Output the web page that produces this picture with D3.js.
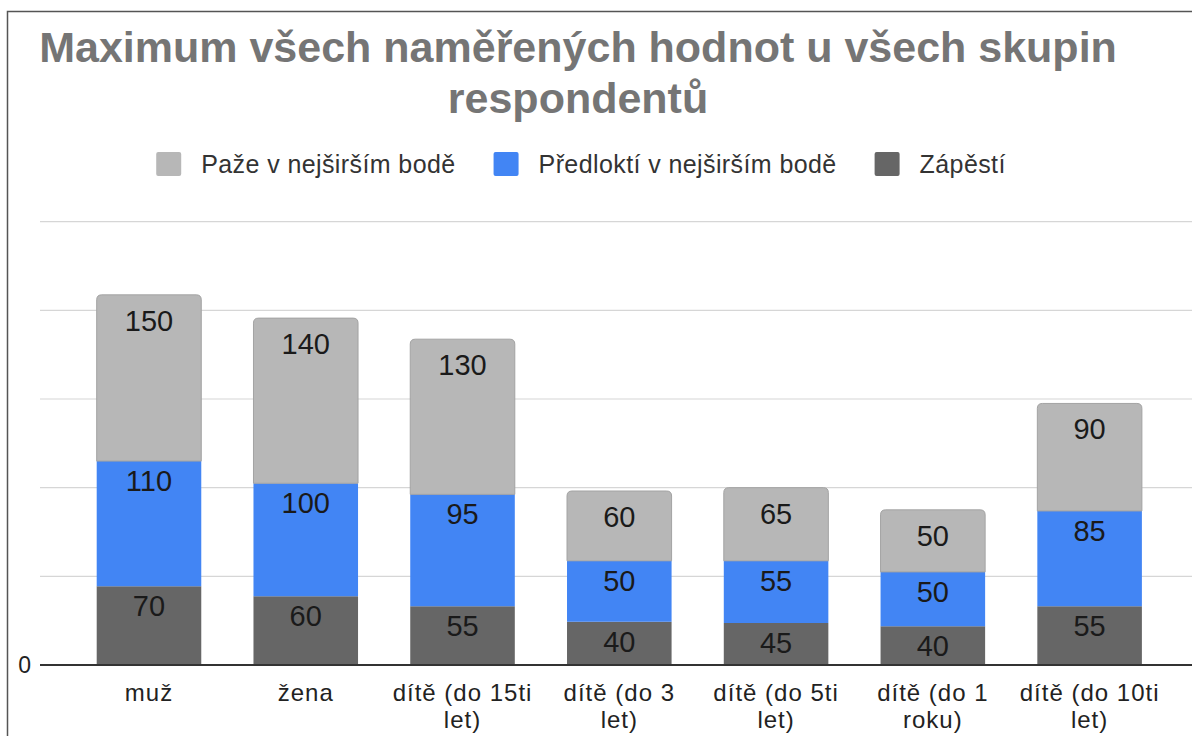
<!DOCTYPE html>
<html>
<head>
<meta charset="utf-8">
<script src="https://cdn.jsdelivr.net/npm/d3@7"></script>
<style>
  body { margin: 0; background: #fff; }
  svg { display: block; font-family: "Liberation Sans", Arial, sans-serif; }
</style>
</head>
<body>
<div id="chart"></div>
<script>
var categories = ["muž", "žena", "dítě (do 15ti let)", "dítě (do 3 let)", "dítě (do 5ti let)", "dítě (do 1 roku)", "dítě (do 10ti let)"];
var seriesNames = ["Zápěstí", "Předloktí v nejširším bodě", "Paže v nejširším bodě"];

// bar heights
var zapesti   = [71, 62, 53, 39, 38, 35, 53];
var predlokti = [113, 102, 101, 55, 56, 49, 86];
var paze      = [150, 149, 140, 63, 66, 56, 97];

// the numbers printed on the bars
var zapestiLabels   = ["70", "60", "55", "40", "45", "40", "55"];
var predloktiLabels = ["110", "100", "95", "50", "55", "50", "85"];
var pazeLabels      = ["150", "140", "130", "60", "65", "50", "90"];

var yTicks = [0, 80, 160, 240, 320, 400];

var colors = ["#666666", "#4285f4", "#b7b7b7"];

var width = 1192, height = 736;

var svg = d3.select("#chart").append("svg")
    .attr("width", width)
    .attr("height", height);

// outer frame
svg.append("rect")
    .attr("x", 7.5).attr("y", 11.5)
    .attr("width", 1300).attr("height", 900)
    .attr("fill", "#fff")
    .attr("stroke", "#555")
    .attr("stroke-width", 1.5);

var keys = ["zap", "pred", "paze"];
var data = categories.map(function(c, i) {
  return { cat: c, zap: zapesti[i], pred: predlokti[i], paze: paze[i],
           labels: [zapestiLabels[i], predloktiLabels[i], pazeLabels[i]] };
});

var x = d3.scaleBand()
    .domain(categories)
    .range([70.6, 1168])
    .paddingInner(0.333)
    .paddingOuter(0.1665);

var y = d3.scaleLinear()
    .domain([0, 400])
    .range([665, 221.7]);

// title
var title = svg.append("text")
    .attr("text-anchor", "middle")
    .style("font-size", "43px")
    .style("font-weight", "bold")
    .attr("fill", "#757575");
title.append("tspan").attr("x", 578).attr("y", 62).text("Maximum všech naměřených hodnot u všech skupin");
title.append("tspan").attr("x", 578).attr("y", 113).text("respondentů");

// legend
var legendItems = [
  { name: seriesNames[2], color: colors[2] },
  { name: seriesNames[1], color: colors[1] },
  { name: seriesNames[0], color: colors[0] }
];
var legend = svg.append("g");
var lx = 0;
legendItems.forEach(function(d, i) {
  var g = legend.append("g").attr("transform", "translate(" + lx + ",0)");
  g.append("rect")
      .attr("x", 0).attr("y", 152)
      .attr("width", 25).attr("height", 24)
      .attr("rx", 2)
      .attr("fill", d.color);
  var t = g.append("text")
      .attr("x", 45).attr("y", 173)
      .style("font-size", "25px")
      .style("letter-spacing", "0.4px")
      .attr("fill", "#333")
      .text(d.name);
  lx += 45 + t.node().getComputedTextLength() + 38;
});
var legendW = lx - 38;
legend.attr("transform", "translate(" + (581 - legendW / 2) + ",0)");

// grid
svg.append("g")
  .selectAll("line")
  .data(yTicks.slice(1))
  .enter().append("line")
    .attr("x1", 40).attr("x2", 1192)
    .attr("y1", function(d) { return y(d); })
    .attr("y2", function(d) { return y(d); })
    .attr("stroke", "#d6d6d6")
    .attr("stroke-width", 1.2);

// y axis: only the 0 label is readable in the original
var yAxis = svg.append("g")
    .attr("transform", "translate(31,0)")
    .call(d3.axisLeft(y).tickValues(yTicks).tickSize(0).tickPadding(0)
      .tickFormat(function(d) { return d === 0 ? "0" : ""; }));
yAxis.select(".domain").remove();
yAxis.selectAll("text")
    .style("font-size", "23px")
    .style("font-family", "Liberation Sans, Arial, sans-serif")
    .attr("fill", "#222");

// bars
var stack = d3.stack().keys(keys);
var series = stack(data);

function topRounded(x0, y0, w, h, r) {
  return "M" + x0 + "," + (y0 + h) +
    "V" + (y0 + r) +
    "Q" + x0 + "," + y0 + " " + (x0 + r) + "," + y0 +
    "H" + (x0 + w - r) +
    "Q" + (x0 + w) + "," + y0 + " " + (x0 + w) + "," + (y0 + r) +
    "V" + (y0 + h) + "Z";
}

var labelOffset = [30, 30, 36];

series.forEach(function(s, si) {
  var g = svg.append("g");
  g.selectAll("path")
    .data(s)
    .enter().append("path")
      .attr("d", function(d) {
        var x0 = x(d.data.cat), w = x.bandwidth();
        var y0 = y(d[1]), h = y(d[0]) - y(d[1]);
        if (si === series.length - 1) return topRounded(x0, y0, w, h, 5);
        return "M" + x0 + "," + y0 + "h" + w + "v" + h + "h" + (-w) + "Z";
      })
      .attr("fill", colors[si])
      .attr("stroke", si === 2 ? "#a3a3a3" : "none")
      .attr("stroke-width", 1);

  g.selectAll("text")
    .data(s)
    .enter().append("text")
      .attr("x", function(d) { return x(d.data.cat) + x.bandwidth() / 2; })
      .attr("y", function(d) { return y(d[1]) + labelOffset[si]; })
      .attr("text-anchor", "middle")
      .style("font-size", "29px")
      .attr("fill", "#1a1a1a")
      .text(function(d) { return d.data.labels[si]; });
});

// baseline
svg.append("line")
    .attr("x1", 40).attr("x2", 1192)
    .attr("y1", y(0)).attr("y2", y(0))
    .attr("stroke", "#333")
    .attr("stroke-width", 2);

// x labels, wrapped like the original
var xl = svg.append("g");
categories.forEach(function(c) {
  var cx = x(c) + x.bandwidth() / 2;
  var t = xl.append("text")
      .attr("text-anchor", "middle")
      .style("font-size", "24px")
      .attr("fill", "#222");
  var words = c.split(" "), line = [], lineNo = 0;
  var ts = t.append("tspan").attr("x", cx).attr("y", 701);
  words.forEach(function(w) {
    line.push(w);
    ts.text(line.join(" "));
    if (ts.node().getComputedTextLength() > 138 && line.length > 1) {
      line.pop();
      ts.text(line.join(" "));
      line = [w];
      lineNo++;
      ts = t.append("tspan").attr("x", cx).attr("y", 701 + lineNo * 27).text(w);
    }
  });
  t.style("letter-spacing", "1px");
});
</script>
</body>
</html>
